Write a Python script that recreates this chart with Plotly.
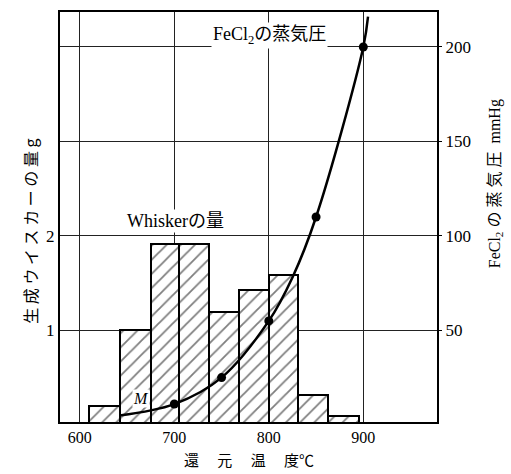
import numpy as np
import plotly.graph_objects as go

# Histogram of whisker amount (g) vs reduction temperature
bin_edges = [610, 642, 675, 705, 737, 768, 800, 831, 863, 895]
whisker_g = [0.20, 1.00, 1.91, 1.91, 1.19, 1.43, 1.59, 0.32, 0.09]

# FeCl2 vapour pressure curve (mmHg)
curve_t = [642, 700, 750, 800, 825, 850, 900, 905]
curve_p = [5, 11, 25, 55, 78, 110, 200, 216]
pts_t = [700, 750, 800, 850, 900]
pts_p = [11, 25, 55, 110, 200]

x_ticks = [600, 700, 800, 900]
left_ticks = [1, 2]
right_ticks = [50, 100, 150, 200]

SERIF = "Liberation Serif, Times New Roman, Noto Sans CJK JP, serif"
CJK = "Noto Sans CJK JP, Liberation Serif, serif"

edges = np.array(bin_edges, dtype=float)
centers = (edges[:-1] + edges[1:]) / 2
widths = np.diff(edges)

fig = go.Figure()
fig.add_trace(go.Bar(
    x=centers, y=whisker_g, width=widths, yaxis="y",
    marker=dict(color="white", line=dict(color="black", width=2),
                pattern=dict(shape="/", size=10, solidity=0.18,
                             fgcolor="black", bgcolor="white")),
    showlegend=False, hoverinfo="skip"))
fig.add_trace(go.Scatter(
    x=curve_t, y=curve_p, yaxis="y2", mode="lines",
    line=dict(color="black", width=2.5, shape="spline", smoothing=1.0),
    showlegend=False, hoverinfo="skip"))
fig.add_trace(go.Scatter(
    x=pts_t, y=pts_p, yaxis="y2", mode="markers",
    marker=dict(color="black", size=9),
    showlegend=False, hoverinfo="skip"))

p0, p1 = 1.5, 218.5
fig.update_layout(
    width=511, height=474,
    margin=dict(l=60, r=74, t=10, b=52),
    paper_bgcolor="white", plot_bgcolor="white",
    bargap=0,
    font=dict(family=SERIF, color="black", size=17),
    xaxis=dict(range=[579, 978], tickvals=x_ticks, showgrid=True,
               gridcolor="#222", gridwidth=1, showline=True, linecolor="black",
               linewidth=2, mirror=True, ticks="", zeroline=False,
               ticklabelstandoff=0,
               tickfont=dict(family=SERIF, size=16)),
    yaxis=dict(range=[p0 / 50, p1 / 50], tickvals=left_ticks, showgrid=False,
               showline=True, linecolor="black", linewidth=2, ticks="",
               zeroline=False, tickfont=dict(family=SERIF, size=17)),
    yaxis2=dict(range=[p0, p1], overlaying="y", side="right",
                tickvals=right_ticks, showgrid=True, gridcolor="#222",
                gridwidth=1, showline=True, linecolor="black", linewidth=2,
                ticks="outside", ticklen=3, tickcolor="black", zeroline=False,
                tickfont=dict(family=SERIF, size=17)),
    annotations=[
        dict(text="FeCl<sub>2</sub>の蒸気圧", x=801, y=206, xref="x", yref="y2",
             xanchor="center", yanchor="middle",
             showarrow=False, bgcolor="white", font=dict(family=SERIF, size=18)),
        dict(text="Whiskerの量", x=701, y=108, xref="x", yref="y2",
             xanchor="center", yanchor="middle",
             showarrow=False, bgcolor="white", font=dict(family=SERIF, size=18)),
        dict(text="<i>M</i>", x=665, y=13.7, xref="x", yref="y2",
             xanchor="center", yanchor="middle",
             showarrow=False, bgcolor="white", borderpad=0,
             font=dict(family=SERIF, size=16)),
        dict(text="生 成 ウ イ ス カ ー の 量 g", x=-0.08, y=0.466,
             xref="paper", yref="paper", xanchor="center", yanchor="middle",
             showarrow=False, textangle=-90,
             font=dict(family=CJK, size=16)),
        dict(text="FeCl<sub>2</sub> の 蒸 気 圧  mmHg", x=1.154, y=0.58,
             xref="paper", yref="paper", xanchor="center", yanchor="middle",
             showarrow=False, textangle=-90,
             font=dict(family=SERIF, size=16)),
        dict(text="還　 元　 温　 度℃", x=0.5, y=-0.092,
             xref="paper", yref="paper", xanchor="center", yanchor="middle",
             showarrow=False, borderpad=0,
             font=dict(family=CJK, size=15)),
    ],
)

fig.write_html("out.html")
